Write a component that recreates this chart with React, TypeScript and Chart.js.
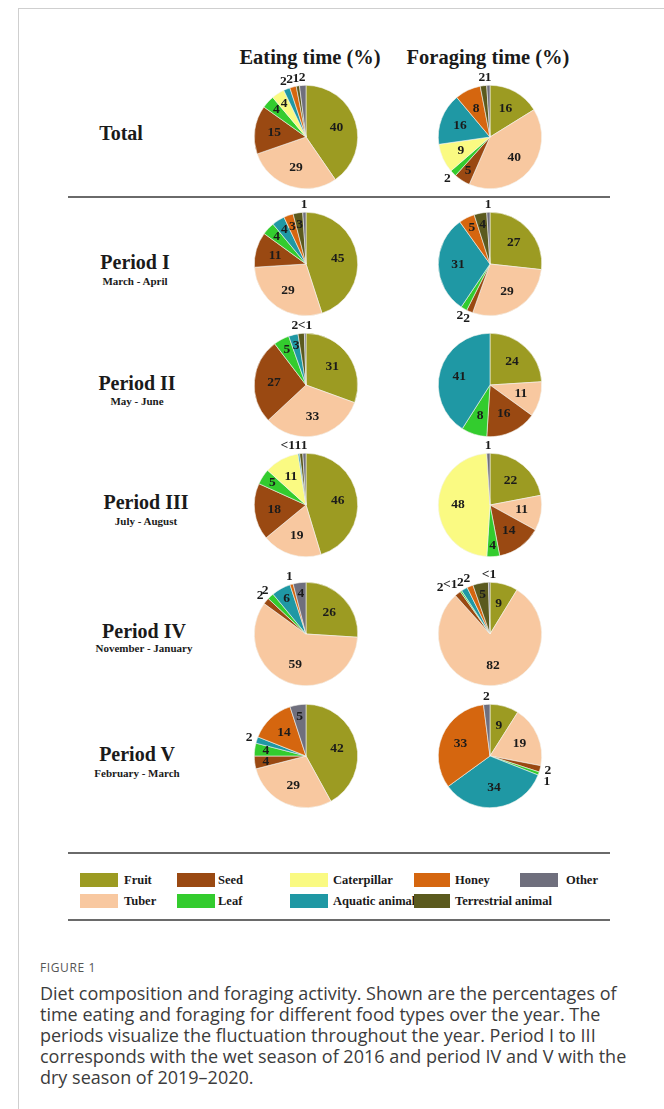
import React, { useEffect, useRef } from 'react';
import { Chart, registerables } from 'chart.js';

Chart.register(...registerables);

// ---------------- data ----------------
const foodTypes = ['Fruit', 'Tuber', 'Seed', 'Leaf', 'Caterpillar', 'Aquatic animal', 'Honey', 'Terrestrial animal', 'Other'];
const foodColors = ['#9c9b22', '#f8c8a0', '#9a4912', '#33cc2e', '#fafa82', '#1f98a4', '#d5660f', '#5b5a1e', '#6f6f7d'];

const columnTitles = ['Eating time (%)', 'Foraging time (%)'];
const rowTitles = ['Total', 'Period I', 'Period II', 'Period III', 'Period IV', 'Period V'];
const rowSubtitles = ['', 'March - April', 'May - June', 'July - August', 'November - January', 'February - March'];

// order: Fruit, Tuber, Seed, Leaf, Caterpillar, Aquatic animal, Honey, Terrestrial animal, Other (0.5 = "<1")
const totalEating = [40, 29, 15, 4, 4, 2, 2, 1, 2];
const totalForaging = [16, 40, 5, 2, 9, 16, 8, 2, 1];
const period1Eating = [45, 29, 11, 4, 0, 4, 3, 3, 1];
const period1Foraging = [27, 29, 2, 2, 0, 31, 5, 4, 1];
const period2Eating = [31, 33, 27, 5, 0, 3, 0, 2, 0.5];
const period2Foraging = [24, 11, 16, 8, 0, 41, 0, 0, 0];
const period3Eating = [46, 19, 18, 5, 11, 0.5, 0, 1, 1];
const period3Foraging = [22, 11, 14, 4, 48, 0, 0, 0, 1];
const period4Eating = [26, 59, 2, 2, 0, 6, 1, 0, 4];
const period4Foraging = [9, 82, 2, 0.5, 0, 2, 2, 5, 0.5];
const period5Eating = [42, 29, 4, 4, 0, 2, 14, 0, 5];
const period5Foraging = [9, 19, 2, 1, 0, 34, 33, 0, 2];

const eatingRows = [totalEating, period1Eating, period2Eating, period3Eating, period4Eating, period5Eating];
const foragingRows = [totalForaging, period1Foraging, period2Foraging, period3Foraging, period4Foraging, period5Foraging];

const legendRow1 = [0, 2, 4, 6, 8];
const legendRow2 = [1, 3, 5, 7];

const captionTitle = 'FIGURE 1';
const captionLines = [
  'Diet composition and foraging activity. Shown are the percentages of',
  'time eating and foraging for different food types over the year. The',
  'periods visualize the fluctuation throughout the year. Period I to III',
  'corresponds with the wet season of 2016 and period IV and V with the',
  'dry season of 2019\u20132020.',
];

// ---------------- layout ----------------
const SERIF = '"Liberation Serif", "Times New Roman", "DejaVu Serif", serif';
const SANS = '"Open Sans", "Noto Sans", Arial, sans-serif';
const pieX = [306, 490];
const pieY = [137, 264, 385, 505, 634, 756];
const rowTitleX = [121, 135, 137, 146, 144, 137];
const rowTitleY = [133, 262, 383, 502, 631, 754];
const rowSubY = [0, 281, 401, 521, 648, 773];
const legendSwatchX = [80, 177, 290, 414, 520];
const legendSwatchW = [38, 38, 38, 36, 38];
const legendTextX = [124, 218, 333, 455, 566];
const CANVAS = 160;

const sliceLabelPlugin = {
  id: 'sliceLabels',
  afterDatasetsDraw(chart: any) {
    const ctx = chart.ctx;
    const ds = chart.data.datasets[0];
    const meta = chart.getDatasetMeta(0);
    ctx.save();
    ctx.font = `bold 13.5px ${SERIF}`;
    ctx.fillStyle = '#1b1b1b';
    ctx.textAlign = 'center';
    ctx.textBaseline = 'middle';
    const outside: any[] = [];
    meta.data.forEach((arc: any, i: number) => {
      const v = ds.data[i];
      if (!v) return;
      const p = arc.getProps(['x', 'y', 'startAngle', 'endAngle', 'outerRadius'], true);
      const mid = (p.startAngle + p.endAngle) / 2;
      const txt = v < 1 ? '<1' : String(v);
      if (v >= 3) {
        const r = p.outerRadius * (v < 8 ? 0.78 : 0.62);
        ctx.fillText(txt, p.x + Math.cos(mid) * r, p.y + Math.sin(mid) * r);
      } else {
        const r = p.outerRadius + 8;
        const s = Math.sin(mid);
        outside.push({
          txt,
          x: p.x + Math.cos(mid) * r,
          y: p.y + s * r,
          w: ctx.measureText(txt).width,
          zone: s < -0.7 ? 'top' : s > 0.7 ? 'bottom' : 'side',
        });
      }
    });
    // top labels: keep right-most, shift earlier ones left
    for (let k = outside.length - 2; k >= 0; k--) {
      const a = outside[k];
      const b = outside[k + 1];
      if (a.zone === 'top' && b.zone === 'top' && Math.abs(a.y - b.y) < 12) {
        const maxX = b.x - b.w / 2 - a.w / 2 + 0.5;
        if (a.x > maxX) a.x = maxX;
      }
    }
    for (let k = 1; k < outside.length; k++) {
      const a = outside[k - 1];
      const b = outside[k];
      if (a.zone === 'bottom' && b.zone === 'bottom' && Math.abs(a.y - b.y) < 12) {
        // clockwise along the bottom runs right to left
        const maxX = a.x - a.w / 2 - b.w / 2 + 0.5;
        if (b.x > maxX) b.x = maxX;
      } else if (a.zone === 'side' && b.zone === 'side' && Math.abs(a.x - b.x) < (a.w + b.w) / 2 && Math.abs(a.y - b.y) < 11) {
        b.y = a.y + 11;
        b.x = Math.max(b.x, a.x - 1);
      }
    }
    outside.forEach((o) => ctx.fillText(o.txt, o.x, o.y));
    ctx.restore();
  },
};

function Pie({ values, cx, cy }: { values: number[]; cx: number; cy: number }) {
  const ref = useRef<HTMLCanvasElement | null>(null);
  useEffect(() => {
    if (!ref.current) return;
    const chart = new Chart(ref.current, {
      type: 'pie',
      data: {
        labels: foodTypes,
        datasets: [
          {
            data: values,
            backgroundColor: foodColors,
            borderColor: '#f3f3ef',
            borderWidth: 0.6,
          },
        ],
      },
      options: {
        responsive: false,
        animation: false,
        devicePixelRatio: 1,
        events: [],
        layout: { padding: 28 },
        plugins: { legend: { display: false }, tooltip: { enabled: false } },
      },
      plugins: [sliceLabelPlugin],
    } as any);
    return () => chart.destroy();
  }, [values]);
  return (
    <canvas
      ref={ref}
      width={CANVAS}
      height={CANVAS}
      style={{ position: 'absolute', left: cx - CANVAS / 2, top: cy - CANVAS / 2, width: CANVAS, height: CANVAS }}
    />
  );
}

function Text({ x, y, children, size, weight = 'bold', font = SERIF, align = 'center', color = '#1a1a1a' }: any) {
  const w = 300;
  const left = align === 'center' ? x - w / 2 : x;
  return (
    <div
      style={{
        position: 'absolute',
        left,
        top: y - size,
        width: w,
        height: size * 2,
        lineHeight: `${size * 2}px`,
        textAlign: align,
        fontFamily: font,
        fontWeight: weight,
        fontSize: size,
        color,
        whiteSpace: 'nowrap',
      }}
    >
      {children}
    </div>
  );
}

export default function App() {
  return (
    <div
      style={{
        position: 'absolute',
        left: 0,
        top: 0,
        width: 664,
        height: 1109,
        overflow: 'hidden',
        background: '#ffffff',
      }}
    >
      {/* frame */}
      <div style={{ position: 'absolute', left: 18, top: 8, width: 700, height: 1200, borderLeft: '1px solid #cfcfcf', borderTop: '1px solid #cfcfcf' }} />

      {columnTitles.map((t, i) => (
        <Text key={t} x={i === 0 ? 310 : 488} y={57} size={20.5}>
          {t}
        </Text>
      ))}

      {rowTitles.map((t, i) => (
        <React.Fragment key={t}>
          <Text x={rowTitleX[i]} y={rowTitleY[i]} size={20}>
            {t}
          </Text>
          {rowSubtitles[i] ? (
            <Text x={rowTitleX[i]} y={rowSubY[i]} size={11}>
              {rowSubtitles[i]}
            </Text>
          ) : null}
        </React.Fragment>
      ))}

      <div style={{ position: 'absolute', left: 68, top: 196, width: 542, height: 2, background: '#6a6a6a' }} />

      {eatingRows.map((v, i) => (
        <Pie key={'e' + i} values={v} cx={pieX[0]} cy={pieY[i]} />
      ))}
      {foragingRows.map((v, i) => (
        <Pie key={'f' + i} values={v} cx={pieX[1]} cy={pieY[i]} />
      ))}

      {/* legend */}
      <div style={{ position: 'absolute', left: 68, top: 852, width: 542, height: 2, background: '#6a6a6a' }} />
      <div style={{ position: 'absolute', left: 68, top: 919, width: 542, height: 2, background: '#6a6a6a' }} />
      {[legendRow1, legendRow2].map((row, r) =>
        row.map((idx, c) => (
          <React.Fragment key={`${r}-${c}`}>
            <div
              style={{
                position: 'absolute',
                left: legendSwatchX[c],
                top: (r === 0 ? 880 : 901) - 7,
                width: legendSwatchW[c],
                height: 14,
                background: foodColors[idx],
              }}
            />
            <Text x={legendTextX[c]} y={r === 0 ? 880 : 901} size={12.5} align="left">
              {foodTypes[idx]}
            </Text>
          </React.Fragment>
        ))
      )}

      {/* caption */}
      <Text x={40} y={968} size={12} weight="normal" font={SANS} align="left" color="#555">
        <span style={{ letterSpacing: 0.6 }}>{captionTitle}</span>
      </Text>
      {captionLines.map((l, i) => (
        <div
          key={i}
          style={{
            position: 'absolute',
            left: 40,
            top: 993 + i * 21 - 11,
            height: 22,
            lineHeight: '22px',
            fontFamily: SANS,
            fontSize: 18,
            color: '#3c3c3c',
            whiteSpace: 'nowrap',
          }}
        >
          {l}
        </div>
      ))}
    </div>
  );
}
